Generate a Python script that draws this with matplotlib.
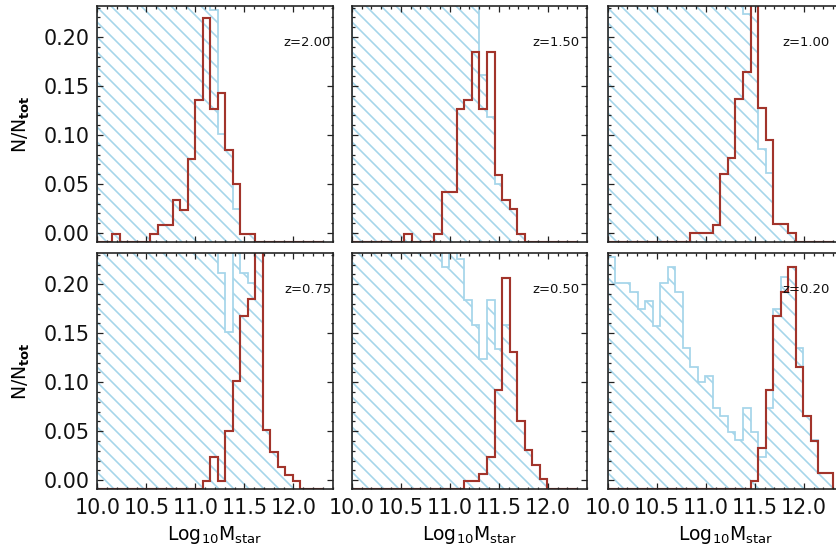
import numpy as np
import matplotlib
matplotlib.use('Agg')
import matplotlib.pyplot as plt
from matplotlib.ticker import MultipleLocator

plt.rcParams['font.family'] = ['DejaVu Sans']
plt.rcParams['mathtext.fontset'] = 'dejavusans'
plt.rcParams['hatch.linewidth'] = 1.3

# 30 bins in log10 Mstar between 10.0 and 12.3
edges = np.linspace(10.0, 12.3, 31)
OFF = 0.30  # bins that run above the plotted range

# axis floor sits a little below N/Ntot = 0; bar heights are measured from it
YMIN, YMAX = -0.0092, 0.2316

redshifts = ['2.00', '1.50', '1.00', '0.75', '0.50', '0.20']

blue_z200 = [OFF]*15 + [0.237, 0.110, 0.094, 0.034, 0.008, 0.008] + [0]*9
red_z200 = [0, 0, 0.008, 0, 0, 0, 0, 0.008, 0.017, 0.017, 0.043, 0.033, 0.085, 0.145,
            0.229, 0.136, 0.152, 0.094, 0.059, 0.008, 0.008] + [0]*9

blue_z150 = [OFF]*17 + [0.170, 0.128, 0.059, 0.043, 0.034, 0.008] + [0]*7
red_z150 = [0]*7 + [0.008, 0, 0, 0, 0.008, 0.051, 0.051, 0.136, 0.145, 0.194, 0.136,
                    0.194, 0.068, 0.043, 0.034, 0.008] + [0]*7

blue_z100 = [OFF]*18 + [0.233, OFF, 0.095, 0.070, 0.018, 0.018, 0.009] + [0]*5
red_z100 = [0]*11 + [0.009, 0.009, 0.009, 0.017, 0.069, 0.086, 0.146, 0.173, OFF, 0.137,
                     0.104, 0.018, 0.018, 0.009] + [0]*5

blue_z075 = [OFF]*16 + [0.221, 0.161, OFF, 0.221, 0.211, OFF, 0.060, 0.038, 0.023,
                        0.015, 0.008] + [0]*3
red_z075 = [0]*14 + [0.008, 0.033, 0.008, 0.059, 0.110, 0.177, 0.194, OFF, 0.060, 0.038,
                     0.023, 0.015, 0.008] + [0]*3

blue_z050 = [OFF]*12 + [0.227, OFF, 0.235, 0.193, 0.168, 0.133, 0.193, 0.143, 0.168,
                        0.140, 0.070, 0.040, 0.025, 0.010] + [0]*4
red_z050 = [0]*15 + [0.008, 0.008, 0.016, 0.033, 0.101, 0.216, 0.140, 0.070, 0.040,
                     0.025, 0.010] + [0]*4

blue_z020 = [0.237, 0.210, 0.210, 0.201, 0.184, 0.192, 0.167, 0.210, 0.227, 0.201, 0.144,
             0.125, 0.109, 0.116, 0.083, 0.075, 0.058, 0.050, 0.083, 0.058, 0.033, 0.083,
             0.184, 0.217, 0.227, 0.144, 0.075, 0.050, 0.017, 0.017]
red_z020 = [0]*19 + [0.008, 0.042, 0.101, 0.177, 0.201, 0.227, 0.125, 0.075, 0.049,
                     0.017, 0.017]

blues = [blue_z200, blue_z150, blue_z100, blue_z075, blue_z050, blue_z020]
reds = [red_z200, red_z150, red_z100, red_z075, red_z050, red_z020]

BLUE = '#a5d5ea'
RED = '#a2342b'
AXC = '#222222'

fig = plt.figure(figsize=(836/90, 555/90), dpi=90)
lefts = [97.4/836, 351.7/836, 607.7/836]
bottoms = [(555-242)/555, (555-489.3)/555]
w = 235.3/836
h = 236/555
# right end of the redshift label in each column (axes fraction)
zx = [0.993, 0.970, 0.945]

for i in range(6):
    row, col = divmod(i, 3)
    ax = fig.add_axes([lefts[col], bottoms[row], w, h])
    ax.stairs(YMIN + np.array(blues[i]), edges, baseline=YMIN, fill=True,
              facecolor='none', edgecolor=BLUE, hatch='\\\\', lw=1.4)
    ax.stairs(YMIN + np.array(reds[i]), edges, baseline=YMIN, color=RED, lw=1.7)
    ax.set_xlim(10.0, 12.4)
    ax.set_ylim(YMIN, YMAX)
    ax.xaxis.set_major_locator(MultipleLocator(0.5))
    ax.xaxis.set_minor_locator(MultipleLocator(0.1))
    ax.yaxis.set_major_locator(MultipleLocator(0.05))
    ax.yaxis.set_minor_locator(MultipleLocator(0.01))
    ax.xaxis.set_major_formatter(lambda v, p: f'{v:.1f}')
    ax.yaxis.set_major_formatter(lambda v, p: f'{abs(v):.2f}')
    ax.tick_params(which='both', direction='in', top=True, right=True, color=AXC,
                   width=1.0, labelsize=16.5, labelcolor='#111111')
    ax.tick_params(which='major', length=4.5)
    ax.tick_params(which='minor', length=2)
    ax.tick_params(axis='x', pad=7)
    ax.tick_params(axis='y', pad=6)
    for s in ax.spines.values():
        s.set_color(AXC)
        s.set_linewidth(1.3)
    if col > 0:
        ax.tick_params(labelleft=False)
    else:
        ax.set_ylabel(r'N/N$_{\mathbf{tot}}$', fontsize=15)
        ax.yaxis.set_label_coords(-0.278, 0.5)
    if row == 0:
        ax.tick_params(labelbottom=False)
    else:
        ax.set_xlabel(r'Log$_{10}$M$_{\mathrm{star}}$', fontsize=15, labelpad=5)
    ax.text(zx[col], 0.847, 'z=' + redshifts[i], transform=ax.transAxes,
            ha='right', va='center', fontsize=10.5, color='#111111')

fig.savefig('out.png', dpi=90)
